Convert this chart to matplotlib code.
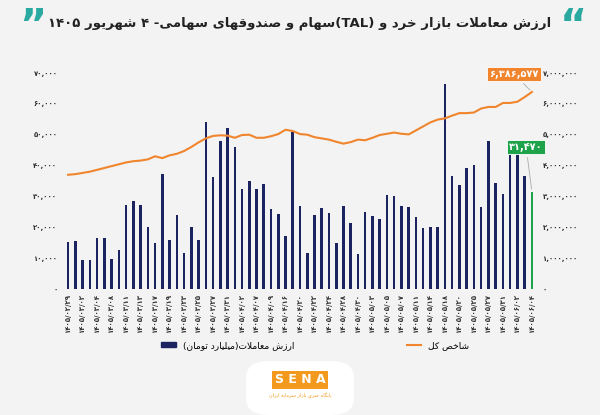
import numpy as np
import matplotlib
matplotlib.use("Agg")
import matplotlib.pyplot as plt
from matplotlib.patches import Patch, FancyBboxPatch
from matplotlib.lines import Line2D

plt.rcParams['font.family'] = ['DejaVu Sans']

# --- داده‌ها ---
value_bn = [15300, 15500, 9200, 9200, 16400, 16600, 9600, 12500, 27300, 28500,
            27300, 20200, 14800, 37300, 16000, 24000, 11500, 20000, 16000, 54200,
            36400, 47800, 52300, 46100, 32400, 35000, 32400, 33900, 25800, 24200,
            17000, 50900, 27000, 11500, 23800, 26200, 24500, 14900, 27000, 21500,
            11400, 24900, 23600, 22800, 30500, 30200, 27000, 26600, 23200, 19700,
            19900, 19900, 66400, 36500, 33700, 39200, 40200, 26600, 48000, 34200,
            30800, 46300, 45000, 36600, 31470]
index_m = [3.70, 3.72, 3.76, 3.80, 3.86, 3.92, 3.98, 4.04, 4.10, 4.14,
           4.16, 4.20, 4.30, 4.24, 4.33, 4.38, 4.47, 4.60, 4.75, 4.88,
           4.96, 4.98, 4.97, 4.90, 4.99, 5.00, 4.90, 4.90, 4.95, 5.02,
           5.16, 5.12, 5.02, 5.00, 4.92, 4.88, 4.84, 4.77, 4.71, 4.76,
           4.84, 4.82, 4.90, 4.99, 5.03, 5.07, 5.03, 5.01, 5.14, 5.27,
           5.40, 5.49, 5.53, 5.62, 5.70, 5.70, 5.72, 5.85, 5.90, 5.90,
           6.03, 6.03, 6.07, 6.22, 6.386577]
date_labels = ["02/29", "03/02", "03/04", "03/08", "03/11", "03/13", "03/17",
               "03/19", "03/23", "03/25", "03/27", "03/31", "04/02", "04/07",
               "04/09", "04/16", "04/20", "04/22", "04/24", "04/28", "04/30",
               "05/03", "05/05", "05/07", "05/11", "05/14", "05/18", "05/20",
               "05/25", "05/27", "05/31", "06/02", "06/04"]

# --- شکل‌دهی ساده حروف فارسی ---
FORMS = {
    'ا': ('\uFE8D', '\uFE8E', None, None), 'آ': ('\uFE81', '\uFE82', None, None),
    'ب': ('\uFE8F', '\uFE90', '\uFE91', '\uFE92'), 'پ': ('\uFB56', '\uFB57', '\uFB58', '\uFB59'),
    'ت': ('\uFE95', '\uFE96', '\uFE97', '\uFE98'), 'ث': ('\uFE99', '\uFE9A', '\uFE9B', '\uFE9C'),
    'ج': ('\uFE9D', '\uFE9E', '\uFE9F', '\uFEA0'), 'چ': ('\uFB7A', '\uFB7B', '\uFB7C', '\uFB7D'),
    'ح': ('\uFEA1', '\uFEA2', '\uFEA3', '\uFEA4'), 'خ': ('\uFEA5', '\uFEA6', '\uFEA7', '\uFEA8'),
    'د': ('\uFEA9', '\uFEAA', None, None), 'ذ': ('\uFEAB', '\uFEAC', None, None),
    'ر': ('\uFEAD', '\uFEAE', None, None), 'ز': ('\uFEAF', '\uFEB0', None, None),
    'ژ': ('\uFB8A', '\uFB8B', None, None),
    'س': ('\uFEB1', '\uFEB2', '\uFEB3', '\uFEB4'), 'ش': ('\uFEB5', '\uFEB6', '\uFEB7', '\uFEB8'),
    'ص': ('\uFEB9', '\uFEBA', '\uFEBB', '\uFEBC'), 'ع': ('\uFEC9', '\uFECA', '\uFECB', '\uFECC'),
    'ف': ('\uFED1', '\uFED2', '\uFED3', '\uFED4'), 'ق': ('\uFED5', '\uFED6', '\uFED7', '\uFED8'),
    'ک': ('\uFB8E', '\uFB8F', '\uFB90', '\uFB91'), 'گ': ('\uFB92', '\uFB93', '\uFB94', '\uFB95'),
    'ل': ('\uFEDD', '\uFEDE', '\uFEDF', '\uFEE0'), 'م': ('\uFEE1', '\uFEE2', '\uFEE3', '\uFEE4'),
    'ن': ('\uFEE5', '\uFEE6', '\uFEE7', '\uFEE8'), 'و': ('\uFEED', '\uFEEE', None, None),
    'ه': ('\uFEE9', '\uFEEA', '\uFEEB', '\uFEEC'), 'ی': ('\uFBFC', '\uFBFD', '\uFBFE', '\uFBFF'),
}
MIRROR = {'(': ')', ')': '('}


def shape(word):
    out = []
    chars = list(word)
    i = 0
    while i < len(chars):
        c = chars[i]
        if c not in FORMS:
            out.append(c)
            i += 1
            continue
        prev = chars[i - 1] if i > 0 else None
        joins_prev = prev in FORMS and FORMS[prev][2] is not None
        if c == 'ل' and i + 1 < len(chars) and chars[i + 1] == 'ا':
            out.append('\uFEFC' if joins_prev else '\uFEFB')
            i += 2
            continue
        nxt = chars[i + 1] if i + 1 < len(chars) else None
        joins_next = nxt in FORMS and FORMS[c][2] is not None
        iso, fin, ini, med = FORMS[c]
        if joins_prev and joins_next:
            out.append(med)
        elif joins_prev:
            out.append(fin)
        elif joins_next:
            out.append(ini)
        else:
            out.append(iso)
        i += 1
    return ''.join(out)


def fa(text):
    # اجرای راست به چپ: تکه‌های چپ‌به‌راست (اعداد، لاتین) دست نخورده می‌مانند
    s = shape(text.replace('\u200c', ''))
    runs, cur, cur_ltr = [], '', None
    for ch in s:
        ltr = ch.isdigit() or ch.isascii() and ch.isalpha()
        if ch in ' ()-/,':
            ltr = None
        if cur and ltr is not None and cur_ltr is not None and ltr != cur_ltr:
            runs.append((cur, cur_ltr)); cur = ''
        if ltr is not None:
            cur_ltr = ltr if not cur or cur_ltr is None else cur_ltr
            if cur_ltr is None:
                cur_ltr = ltr
        cur += ch
    runs.append((cur, cur_ltr))
    res = []
    for txt, ltr in reversed(runs):
        if ltr:
            core = txt.strip(' ()-')
            lead = txt[:len(txt) - len(txt.lstrip(' ()-'))]
            trail = txt[len(txt.rstrip(' ()-')):]
            res.append(''.join(MIRROR.get(c, c) for c in reversed(trail)) + core +
                       ''.join(MIRROR.get(c, c) for c in reversed(lead)))
        else:
            res.append(''.join(MIRROR.get(c, c) for c in reversed(txt)))
    return ''.join(res)


PD = str.maketrans('0123456789', '۰۱۲۳۴۵۶۷۸۹')


def pnum(v):
    return f"{int(v):,}".translate(PD)


NAVY = "#1b2461"
ORANGE = "#f0852d"
GREEN = "#1fa34a"
TICK = "#333333"

fig = plt.figure(figsize=(6, 4.15), dpi=100)
fig.patch.set_facecolor("#f3f3f3")
ax = fig.add_axes([0.105, 0.304, 0.79, 0.52])
ax.set_facecolor("none")
x = np.arange(len(value_bn))
colors = [NAVY] * (len(value_bn) - 1) + [GREEN]
ax.bar(x, value_bn, width=0.35, color=colors, zorder=2)
ax.set_ylim(0, 70000)
ax.set_xlim(-0.7, len(value_bn) - 0.3)
ax.set_yticks(np.arange(0, 70001, 10000))
ax.set_yticklabels([pnum(v) for v in np.arange(0, 70001, 10000)], fontsize=5,
                   fontweight="bold", color=TICK)
ax.set_xticks(x[::2])
ax.set_xticklabels([("1405/" + d).translate(PD) for d in date_labels],
                   rotation=90, fontsize=5, fontweight="bold", color=TICK)
for s in ax.spines.values():
    s.set_visible(False)
ax.tick_params(length=0, pad=4)

ax2 = ax.twinx()
ax2.plot(x, np.array(index_m) * 1e6, color=ORANGE, lw=1.5, zorder=3)
ax2.set_ylim(0, 7e6)
ax2.set_yticks(np.arange(0, 7e6 + 1, 1e6))
ax2.set_yticklabels([pnum(v) for v in np.arange(0, 7e6 + 1, 1e6)], fontsize=5,
                    fontweight="bold", color=TICK)
for s in ax2.spines.values():
    s.set_visible(False)
ax2.tick_params(length=0, pad=4)

# برچسب آخرین مقدارها
last = len(value_bn) - 1
ax2.annotate(pnum(index_m[-1] * 1e6), xy=(last, index_m[-1] * 1e6), xytext=(last - 2.5, 6.97e6),
             ha="center", va="center", color="white", fontsize=7, fontweight="bold",
             bbox=dict(boxstyle="square,pad=0.25", fc=ORANGE, ec="white", lw=0.6),
             arrowprops=dict(arrowstyle="-", color="#aaaaaa", lw=0.6), zorder=5)
ax.annotate(pnum(value_bn[-1]), xy=(last, value_bn[-1]), xytext=(last - 0.8, 46000),
            ha="center", va="center", color="white", fontsize=7, fontweight="bold",
            bbox=dict(boxstyle="square,pad=0.25", fc=GREEN, ec="white", lw=0.6),
            arrowprops=dict(arrowstyle="-", color="#aaaaaa", lw=0.6), zorder=5)

# راهنما
fig.legend(handles=[Patch(color=NAVY)], labels=[fa("ارزش معاملات(میلیارد تومان)")],
           loc="center", bbox_to_anchor=(0.38, 0.168), frameon=False, fontsize=6.5,
           handlelength=1.6, handleheight=0.5)
fig.legend(handles=[Line2D([], [], color=ORANGE, lw=1.5)], labels=[fa("شاخص کل")],
           loc="center", bbox_to_anchor=(0.73, 0.168), frameon=False, fontsize=6.5,
           handlelength=1.6)

# عنوان
fig.text(0.5, 0.945, fa("ارزش معاملات بازار خرد و (TAL)سهام و صندوق‌های سهامی- ۴ شهریور ۱۴۰۵"),
         ha="center", va="center", fontsize=9.5, fontweight="bold", color="#222222")
fig.text(0.055, 0.935, "\u201d", ha="center", va="center", fontsize=30,
         fontweight="bold", color="#2aa9a0")
fig.text(0.955, 0.935, "\u201c", ha="center", va="center", fontsize=30,
         fontweight="bold", color="#2aa9a0")

# لوگو روی زبانه سفید
fig.patches.append(FancyBboxPatch((0.41, 0.0), 0.18, 0.13, boxstyle="round,pad=0,rounding_size=0.04",
                                  transform=fig.transFigure, fc="white", ec="none"))
fig.text(0.5, 0.085, "S E N A", ha="center", va="center", fontsize=9, fontweight="bold",
         color="white", bbox=dict(boxstyle="square,pad=0.2", fc="#f39a1e", ec="none"))
fig.text(0.5, 0.045, fa("پایگاه خبری بازار سرمایه ایران"), ha="center", va="center",
         fontsize=3.5, color="#f39a1e")

fig.savefig("out.png", dpi=100, facecolor=fig.get_facecolor())
